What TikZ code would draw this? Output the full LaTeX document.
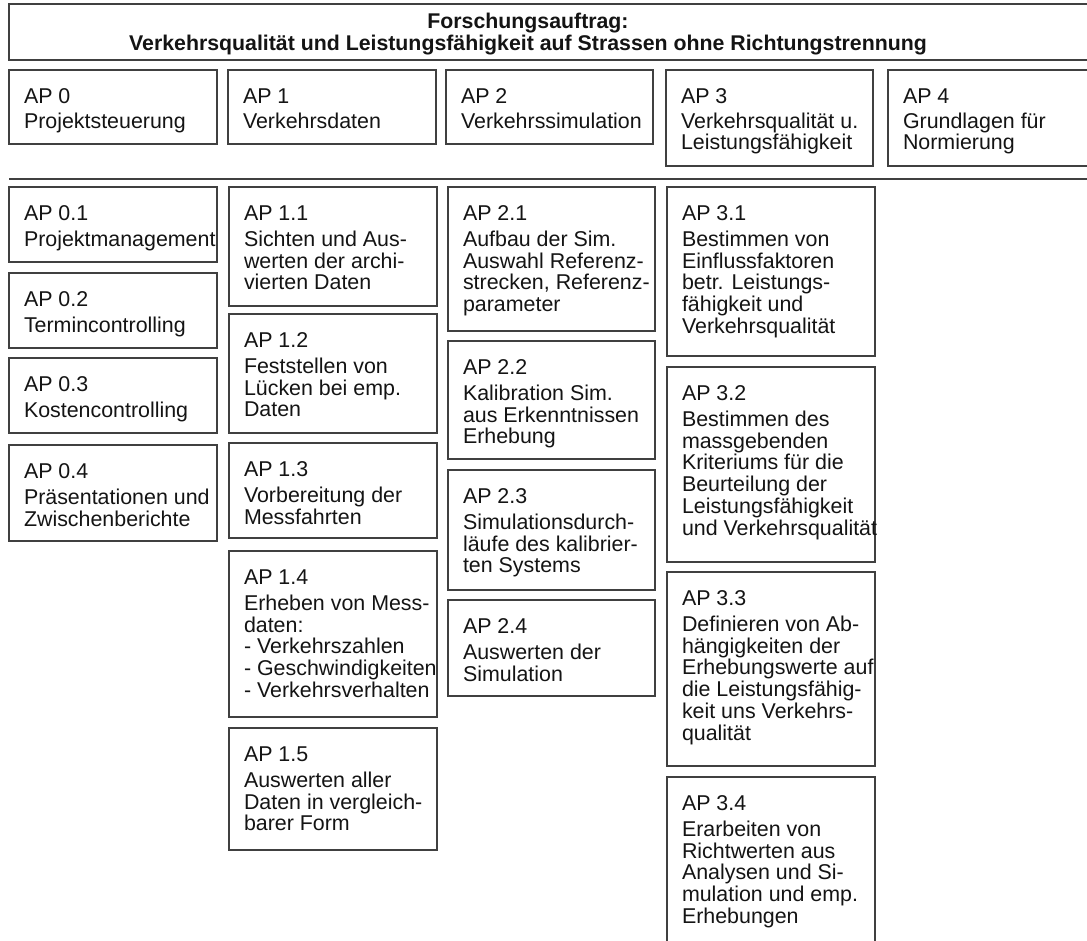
\documentclass[tikz,border=0pt]{standalone}
\usepackage{fontspec}
\setmainfont{Liberation Sans}
\usetikzlibrary{calc}
\tikzset{
  frame/.style={draw=black!75, line width=1.1pt},
  box/.style={frame, rectangle, inner sep=0pt, outer sep=0pt, anchor=north west},
  txt/.style={inner sep=0pt, outer sep=0pt, align=left, anchor=north west, text=black!92,
    font=\fontsize{21.4}{21.7}\selectfont},
  ttl/.style={inner sep=0pt, outer sep=0pt, align=center, anchor=north, text=black!92,
    font=\fontsize{21.3}{22}\selectfont\bfseries}
}
\newcommand\apbox[6]{%
  \node[box, minimum width={#4-#2}, minimum height={#5-#3}] (#1) at (#2,#3) {};
  \node[txt] (#1t) at ($(#1.north west)+(15,18.6)$) {#6};
}
\begin{document}
\begin{tikzpicture}[x=1pt, y=-1pt]
\clip (0,0) rectangle (1087,940);
\fill[white] (0,0) rectangle (1087,940);
% title
\node[box, minimum width=1100, minimum height=56] (title) at (9,4) {};
\node[ttl] (titlet) at (528,12.8) {Forschungsauftrag:\\Verkehrsqualität und Leistungsfähigkeit auf Strassen ohne Richtungstrennung};
% main work packages
\apbox{ap0}{9}{70}{217}{144}{AP 0\\[3pt]Projektsteuerung}
\apbox{ap1}{228}{70}{436}{144}{AP 1\\[3pt]Verkehrsdaten}
\apbox{ap2}{446}{70}{653}{144}{AP 2\\[3pt]Verkehrssimulation}
\apbox{ap3}{666}{70}{873}{166}{AP 3\\[3pt]Verkehrsqualität u.\\Leistungsfähigkeit}
\apbox{ap4}{888}{70}{1100}{166}{AP 4\\[3pt]Grundlagen für\\Normierung}
% separator
\coordinate (sepL) at (9,179);
\coordinate (sepR) at (1100,179);
\draw[frame] (sepL) -- (sepR);
% column 0
\apbox{ap01}{9}{187}{217}{262}{AP 0.1\\[4.3pt]Projektmanagement}
\apbox{ap02}{9}{273}{217}{348}{AP 0.2\\[4.3pt]Termincontrolling}
\apbox{ap03}{9}{358}{217}{433}{AP 0.3\\[4.3pt]Kostencontrolling}
\apbox{ap04}{9}{445}{217}{541}{AP 0.4\\[4.3pt]Präsentationen und\\Zwischenberichte}
% column 1
\apbox{ap11}{229}{187}{437}{306}{AP 1.1\\[4.3pt]Sichten und Aus-\\werten der archi-\\vierten Daten}
\apbox{ap12}{229}{314}{437}{433}{AP 1.2\\[4.3pt]Feststellen von\\Lücken bei emp.\\Daten}
\apbox{ap13}{229}{443}{437}{538}{AP 1.3\\[4.3pt]Vorbereitung der\\Messfahrten}
\apbox{ap14}{229}{551}{437}{717}{AP 1.4\\[4.3pt]Erheben von Mess-\\daten:\\- Verkehrszahlen\\- Geschwindigkeiten\\- Verkehrsverhalten}
\apbox{ap15}{229}{728}{437}{850}{AP 1.5\\[4.3pt]Auswerten aller\\Daten in vergleich-\\barer Form}
% column 2
\apbox{ap21}{448}{187}{655}{331}{AP 2.1\\[4.3pt]Aufbau der Sim.\\Auswahl Referenz-\\strecken, Referenz-\\parameter}
\apbox{ap22}{448}{341}{655}{459}{AP 2.2\\[4.3pt]Kalibration Sim.\\aus Erkenntnissen\\Erhebung}
\apbox{ap23}{448}{470}{655}{590}{AP 2.3\\[4.3pt]Simulationsdurch-\\läufe des kalibrier-\\ten Systems}
\apbox{ap24}{448}{600}{655}{696}{AP 2.4\\[4.3pt]Auswerten der\\Simulation}
% column 3
\apbox{ap31}{667}{187}{875}{356}{AP 3.1\\[4.3pt]Bestimmen von\\Einflussfaktoren\\betr. Leistungs-\\fähigkeit und\\Verkehrsqualität}
\apbox{ap32}{667}{367}{875}{562}{AP 3.2\\[4.3pt]Bestimmen des\\massgebenden\\Kriteriums für die\\Beurteilung der\\Leistungsfähigkeit\\und Verkehrsqualität}
\apbox{ap33}{667}{572}{875}{766}{AP 3.3\\[4.3pt]Definieren von Ab-\\hängigkeiten der\\Erhebungswerte auf\\die Leistungsfähig-\\keit uns Verkehrs-\\qualität}
\apbox{ap34}{667}{777}{875}{960}{AP 3.4\\[4.3pt]Erarbeiten von\\Richtwerten aus\\Analysen und Si-\\mulation und emp.\\Erhebungen}
\end{tikzpicture}
\end{document}
